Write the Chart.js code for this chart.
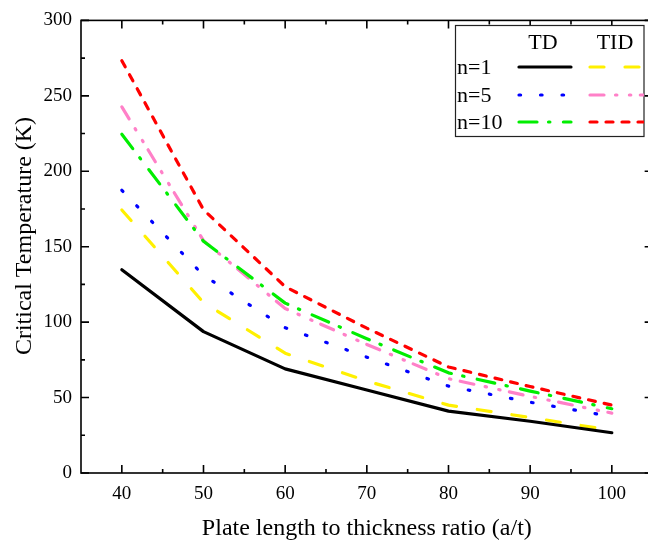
<!DOCTYPE html>
<html>
<head>
<meta charset="utf-8">
<script src="https://cdn.jsdelivr.net/npm/chart.js@4.4.1/dist/chart.umd.min.js"></script>
<style>
  html, body { margin: 0; padding: 0; background: #fff; overflow: hidden; }
  canvas { display: block; }
</style>
</head>
<body>
<canvas id="critChart" width="648" height="544"></canvas>
<script>
// Razão a/t (eixo x)
const ratio = [40, 50, 60, 70, 80, 90, 100];

// Temperatura crítica (K)
const tdN1   = [134.7, 93.7, 69.0, 55.0, 41.0, 34.3, 26.7];
const tidN1  = [174.3, 113.0, 79.4, 61.0, 45.0, 36.8, 28.3];
const tdN5   = [187.4, 131.0, 96.3, 76.8, 57.6, 46.9, 37.4];
const tidN5  = [242.7, 154.0, 109.0, 85.2, 62.5, 50.8, 39.7];
const tdN10  = [224.5, 153.6, 112.6, 89.0, 66.4, 54.3, 42.6];
const tidN10 = [273.3, 174.5, 123.5, 96.0, 70.3, 57.3, 45.0];

// Ticks
const xTicks = [40, 50, 60, 70, 80, 90, 100];
const xMinorTicks = [45, 55, 65, 75, 85, 95];
const yTicks = [0, 50, 100, 150, 200, 250, 300];
const yMinorTicks = [25, 75, 125, 175, 225, 275];

// Legenda (linhas e colunas)
const legendRows = ['n=1', 'n=5', 'n=10'];
const legendCols = ['TD', 'TID'];

const serif = '"Liberation Serif", "Times New Roman", serif';

function pts(values) {
    return ratio.map((r, i) => ({ x: r, y: values[i] }));
}

function line(label, values, color, dash) {
    return {
        label: label,
        data: pts(values),
        borderColor: color,
        backgroundColor: color,
        borderWidth: 3.2,
        borderDash: dash,
        borderCapStyle: 'round',
        borderJoinStyle: 'round',
        pointRadius: 0,
        tension: 0,
        fill: false
    };
}

// Moldura com ticks para dentro, títulos dos eixos e legenda em tabela
const framePlugin = {
    id: 'frame',
    afterDraw(chart) {
        const ctx = chart.ctx;
        const a = chart.chartArea;
        const xs = chart.scales.x;
        const ys = chart.scales.y;
        // o quadro direito (x = 105) fica fora da imagem, como no original
        const right = xs.getPixelForValue(105);
        ctx.save();
        ctx.strokeStyle = '#000';
        ctx.lineWidth = 1.6;
        ctx.setLineDash([]);
        ctx.strokeRect(a.left, a.top, right - a.left, a.bottom - a.top);

        ctx.beginPath();
        const tickX = (v, len) => {
            const px = xs.getPixelForValue(v);
            ctx.moveTo(px, a.bottom); ctx.lineTo(px, a.bottom - len);
            ctx.moveTo(px, a.top); ctx.lineTo(px, a.top + len);
        };
        const tickY = (v, len) => {
            const py = ys.getPixelForValue(v);
            ctx.moveTo(a.left, py); ctx.lineTo(a.left + len, py);
            ctx.moveTo(right, py); ctx.lineTo(right - len, py);
        };
        xTicks.forEach(v => tickX(v, 8));
        xMinorTicks.forEach(v => tickX(v, 4));
        yTicks.forEach(v => tickY(v, 8));
        yMinorTicks.forEach(v => tickY(v, 4));
        ctx.stroke();

        // títulos dos eixos
        ctx.fillStyle = '#000';
        ctx.font = '24px ' + serif;
        ctx.textAlign = 'center';
        ctx.textBaseline = 'alphabetic';
        ctx.fillText('Plate length to thickness ratio (a/t)', (a.left + right) / 2, 535);
        ctx.save();
        ctx.translate(31, 236);
        ctx.rotate(-Math.PI / 2);
        ctx.fillText('Critical Temperature (K)', 0, 0);
        ctx.restore();

        // legenda
        const bx = 455.5, by = 25.5, bw = 188.5, bh = 111;
        ctx.fillStyle = '#fff';
        ctx.fillRect(bx, by, bw, bh);
        ctx.strokeStyle = '#222';
        ctx.lineWidth = 1.2;
        ctx.strokeRect(bx, by, bw, bh);

        ctx.fillStyle = '#000';
        ctx.font = '22px ' + serif;
        ctx.textAlign = 'center';
        ctx.textBaseline = 'middle';
        ctx.fillText(legendCols[0], 543, 43);
        ctx.fillText(legendCols[1], 615, 43);

        const rowY = [67, 95, 122];
        const sets = chart.data.datasets;
        legendRows.forEach((name, i) => {
            ctx.textAlign = 'left';
            ctx.fillStyle = '#000';
            ctx.fillText(name, 457, rowY[i] + 1);
            [[sets[i], 519, 571], [sets[i + 3], 590, 643]].forEach(([ds, x0, x1]) => {
                ctx.save();
                ctx.beginPath();
                ctx.rect(bx, by, bw, bh);
                ctx.clip();
                ctx.strokeStyle = ds.borderColor;
                ctx.lineWidth = ds.borderWidth;
                ctx.lineCap = 'round';
                ctx.setLineDash(ds.borderDash || []);
                ctx.beginPath();
                ctx.moveTo(x0, rowY[i]);
                ctx.lineTo(x1, rowY[i]);
                ctx.stroke();
                ctx.restore();
            });
        });
        ctx.restore();
    }
};

const ctx = document.getElementById('critChart').getContext('2d');
const critChart = new Chart(ctx, {
    type: 'line',
    data: {
        datasets: [
            line('TD n=1', tdN1, '#000000', []),
            line('TD n=5', tdN5, '#0000ff', [1.6, 19.9]),
            line('TD n=10', tdN10, '#00ee00', [18, 11.5, 1.4, 13.5]),
            line('TID n=1', tidN1, '#fff000', [14, 21]),
            line('TID n=5', tidN5, '#ff80c8', [14, 11.5, 1.4, 12.5, 1.4, 9.5]),
            line('TID n=10', tidN10, '#ff0000', [7, 9])
        ]
    },
    options: {
        responsive: false,
        animation: false,
        layout: { padding: { top: 12, right: 0, left: 0, bottom: 0 } },
        plugins: {
            legend: { display: false },
            tooltip: { enabled: false }
        },
        scales: {
            x: {
                type: 'linear',
                min: 35,
                max: 104.43, // a imagem corta o eixo um pouco antes de 105
                afterBuildTicks: (scale) => { scale.ticks = xTicks.map(v => ({ value: v })); },
                afterFit: (scale) => { scale.height = 71; },
                grid: { display: false, drawTicks: false },
                border: { display: false },
                ticks: { color: '#000', padding: 10, font: { family: serif, size: 19 } }
            },
            y: {
                min: 0,
                max: 300,
                afterBuildTicks: (scale) => { scale.ticks = yTicks.map(v => ({ value: v })); },
                afterFit: (scale) => { scale.width = 81; },
                grid: { display: false, drawTicks: false },
                border: { display: false },
                ticks: { color: '#000', padding: 9, font: { family: serif, size: 19 } }
            }
        }
    },
    plugins: [framePlugin]
});
</script>
</body>
</html>
